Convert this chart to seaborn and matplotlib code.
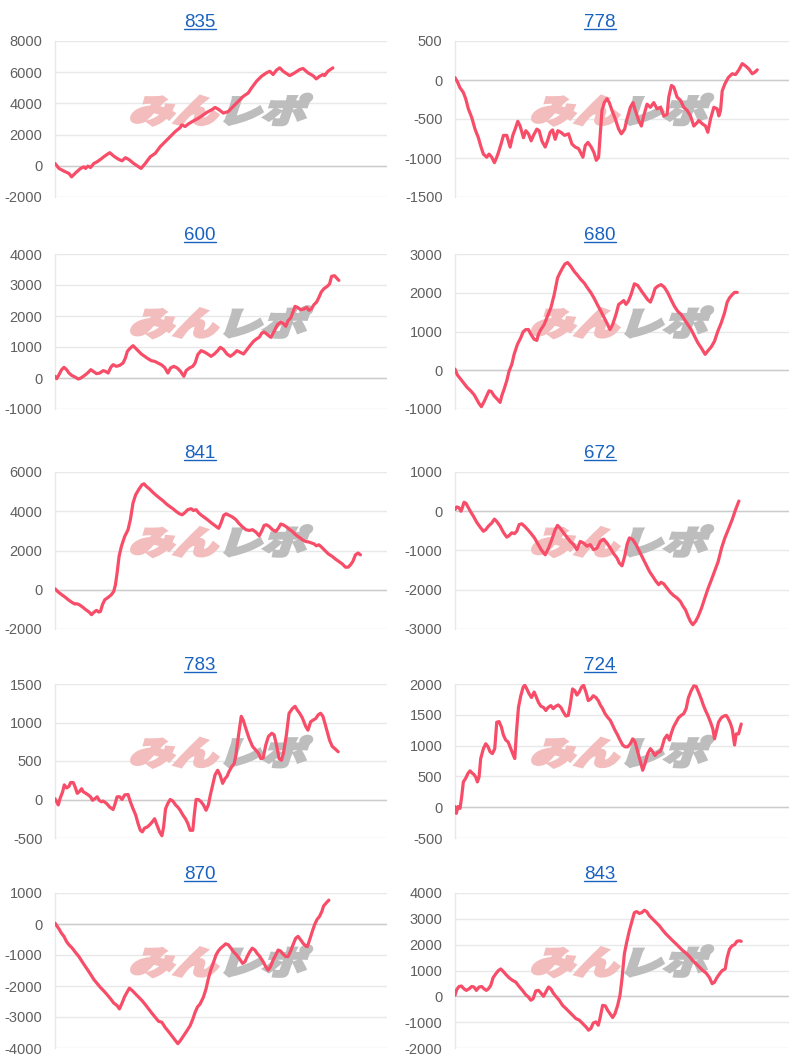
import numpy as np
import matplotlib
matplotlib.use("Agg")
import matplotlib.pyplot as plt
import seaborn as sns
from matplotlib.textpath import TextPath
from matplotlib.font_manager import FontProperties
from matplotlib.patches import PathPatch
from matplotlib.transforms import Affine2D, ScaledTranslation, IdentityTransform
from matplotlib.lines import Line2D
import math

# ---------------- data ----------------
titles = ["835", "778", "600", "680", "841", "672", "783", "724", "870", "843"]

games_835 = [0,120,270,420,500,620,770,870,920,990,1070,1170,1270,1370,1470,1570,1650,1770,1920,2020,
             2120,2220,2370,2520,2590,2720,2870,3020,3170,3320,3470,3620,3770,3820,3920,4020,4170,4320,4470,4570,
             4720,4820,4920,5070,5220,5370,5520,5670,5820,5920,6070,6220,6370,6470,6570,6670,6770,6870,7070,7220,
             7370,7470,7620,7770,7870,7970,8070,8120,8220,8370]
diff_835 = [150,-170,-340,-490,-710,-450,-170,-65,-170,-20,-110,150,260,410,580,730,840,620,410,320,
            520,410,150,-65,-170,150,580,800,1230,1550,1870,2190,2450,2620,2520,2690,2880,3050,3270,3420,
            3590,3740,3630,3380,3480,3810,4130,4450,4670,4990,5420,5740,5960,6060,5850,6130,6280,6060,5780,5960,
            6170,6240,5960,5780,5570,5740,5850,5780,6060,6280]

games_778 = [0,80,150,250,320,400,500,600,700,780, 850,950,1020,1100,1180,1250,1300,1380,1450,1550,
             1650,1730,1800,1880,1950,2050,2120,2200,2280,2350, 2450,2520,2600,2700,2770,2850,2920,3000,3080,3170,
             3280,3400,3500,3600,3700,3830,3900,3980,4080,4160, 4230,4300,4350,4400,4470,4550,4620,4700,4800,4900,
             4980,5080,5150,5250,5330,5400,5500,5580,5650,5750, 5850,5950,6050,6150,6250,6350,6400,6480,6550,6650,
             6750,6850,6950,7050,7150,7220,7300,7400,7500,7570, 7650,7750,7850,7900,7950,8000,8080,8180,8300,8400,
             8500,8600,8700,8800,8900,8980,9050]
diff_778 = [30,-30,-100,-160,-240,-370,-480,-630,-740,-860, -950,-990,-950,-990,-1060,-990,-930,-820,-710,-710,
            -860,-710,-630,-530,-590,-740,-650,-690,-780,-710, -630,-650,-780,-860,-780,-670,-640,-760,-650,-670,
            -710,-690,-820,-860,-880,-990,-840,-800,-860,-930, -1030,-990,-690,-390,-290,-240,-290,-390,-500,-630,
            -690,-630,-500,-350,-290,-390,-520,-590,-460,-310, -350,-290,-370,-350,-460,-440,-220,-70,-90,-220,
            -260,-350,-390,-460,-590,-560,-520,-560,-590,-670, -500,-350,-370,-460,-390,-140,-50,30,80,70,
            130,210,180,140,80,100,130]

games_600 = [0,50,120,200,270,350,420,500,600,700, 780,880,980,1080,1150,1250,1350,1450,1520,1600,
             1680,1750,1850,1950,2050,2120,2180,2250,2350,2420, 2500,2600,2700,2800,2900,3000,3100,3200,3300,3400,
             3480,3580,3680,3780,3880,3950,4050,4150,4220,4300, 4400,4500,4600,4700,4800,4900,4980,5080,5180,5280,
             5380,5480,5580,5680,5780,5880,5980,6080,6150,6230, 6300,6400,6500,6600,6700,6800,6880,6950,7020,7100,
             7170,7230,7300,7400,7500,7580,7650,7720,7800,7880, 7950,8020,8100,8200,8270,8330,8420,8500,8550]
diff_600 = [54,-22,108,269,344,269,161,86,32,-32, 0,75,161,269,215,140,161,237,215,161,
            344,430,376,409,484,645,860,946,1043,968, 882,774,699,624,559,538,484,430,344,161,
            323,376,323,215,54,237,323,376,484,753, 882,839,774,699,774,882,989,914,774,699,
            774,882,828,774,914,1054,1183,1269,1312,1451, 1484,1398,1312,1505,1720,1806,1753,1666,1849,1935,
            2129,2311,2279,2204,2225,2279,2182,2225,2365,2451, 2602,2774,2881,2956,3032,3279,3300,3204,3150]

games_680 = [0,70,170,270,370,470,570,650,720,790, 870,950,1020,1090,1170,1270,1350,1400,1470,1550,
             1620,1700,1770,1870,1970,2040,2120,2200,2270,2370, 2450,2500,2570,2670,2770,2870,2970,3070,3140,3220,
             3290,3370,3470,3570,3670,3770,3870,3970,4070,4170, 4270,4370,4470,4570,4640,4720,4820,4900,4970,5050,
             5120,5190,5270,5370,5470,5570,5670,5770,5850,5920, 5990,6070,6170,6270,6370,6470,6570,6670,6770,6870,
             6970,7070,7170,7270,7370,7490,7570,7670,7770,7870, 7970,8070,8150,8220,8300,8370,8450]
diff_680 = [30,-120,-230,-340,-450,-530,-630,-750,-860,-940, -810,-660,-530,-550,-660,-750,-830,-660,-490,-270,
            -20,150,410,670,840,990,1050,1050,930,800, 770,930,1050,1180,1400,1610,1950,2380,2510,2640,
            2740,2780,2680,2550,2450,2340,2250,2120,2000,1850, 1680,1520,1350,1180,1050,1180,1440,1700,1740,1800,
            1700,1780,1950,2230,2190,2060,1940,1820,1760,1910, 2110,2170,2210,2140,2000,1820,1650,1520,1440,1310,
            1180,1050,880,710,580,410,500,600,750,1010, 1220,1480,1760,1870,1950,2010,2010]

games_841 = [0,100,200,300,400,500,600,650,730,830, 930,1030,1100,1170,1250,1320,1370,1430,1500,1600,
             1700,1770,1820,1870,1930,2000,2100,2200,2270,2350, 2430,2530,2620,2680,2750,2850,2950,3050,3150,3250,
             3350,3450,3550,3650,3750,3830,3900,4000,4100,4170, 4250,4330,4430,4530,4630,4730,4850,4930,5000,5080,
             5150,5250,5350,5450,5530,5630,5750,5850,5950,6050, 6150,6220,6300,6370,6450,6550,6650,6730,6800,6870,
             6950,7050,7150,7250,7350,7450,7550,7650,7730,7800, 7870,7950,8030,8130,8230,8350,8450,8550,8650,8750,
             8830,8900,8970,9050,9130,9200]
diff_841 = [50,-120,-250,-370,-510,-630,-730,-710,-760,-880, -1020,-1140,-1270,-1150,-1050,-1140,-1100,-760,-510,-390,
            -250,-80,250,850,1700,2210,2720,3060,3570,4420, 4840,5130,5350,5400,5270,5130,4960,4810,4670,4540,
            4380,4250,4130,3990,3870,3820,3910,4080,4130,4040, 4080,3910,3770,3650,3520,3380,3230,3130,3400,3790,
            3870,3790,3700,3570,3400,3230,3060,3020,3060,2940, 2750,2970,3280,3310,3230,3060,2970,3140,3350,3310,
            3230,3090,2970,2800,2680,2550,2460,2430,2380,2340, 2240,2290,2170,2000,1830,1700,1560,1440,1320,1150,
            1150,1270,1440,1780,1870,1780]

games_672 = [0,50,120,180,220,270,330,400,480,560, 650,750,850,920,1000,1100,1180,1250,1350,1450,
             1550,1620,1700,1780,1850,1920,2000,2080,2180,2280, 2380,2480,2580,2700,2800,2900,3000,3070,3150,3250,
             3350,3450,3550,3650,3750,3850,3950,4050,4150,4250, 4350,4450,4550,4650,4750,4850,4920,5000,5080,5150,
             5220,5320,5420,5520,5620,5720,5820,5920,6020,6100, 6170,6250,6350,6450,6550,6650,6750,6820,6900,6980,
             7050,7120,7200,7280,7380,7480,7580,7680,7780,7880, 7980,8080,8180,8300,8400,8500]
diff_672 = [40,110,90,0,90,230,200,90,-30,-140, -280,-400,-510,-470,-380,-300,-200,-260,-380,-540,
            -660,-620,-550,-570,-510,-340,-320,-380,-470,-570, -680,-830,-980,-1110,-940,-720,-470,-360,-430,-550,
            -660,-770,-850,-980,-770,-810,-890,-850,-980,-940, -770,-710,-810,-940,-1080,-1190,-1320,-1390,-1150,-850,
            -680,-720,-850,-1020,-1190,-1360,-1530,-1660,-1790,-1870, -1810,-1850,-1960,-2070,-2150,-2210,-2300,-2410,-2510,-2680,
            -2810,-2890,-2810,-2680,-2470,-2210,-1960,-1740,-1510,-1280, -940,-680,-470,-210,40,260]

games_783 = [0,50,100,150,230,280,350,420,470,550, 600,670,730,800,850,930,1000,1070,1130,1200,
             1270,1330,1400,1450,1550,1650,1750,1800,1870,1950, 2020,2100,2200,2270,2350,2430,2500,2570,2630,2700,
             2770,2850,2930,3000,3070,3150,3220,3270,3330,3400, 3470,3550,3630,3700,3770,3850,3930,4000,4070,4150,
             4200,4250,4320,4400,4470,4550,4620,4680,4750,4820, 4900,4970,5050,5120,5180,5250,5330,5400,5450,5530,
             5610,5670,5750,5850,5950,6050,6130,6200,6270,6350, 6430,6530,6600,6670,6750,6820,6880,6970,7050,7150,
             7230,7300,7370,7450,7550,7620,7700,7770,7850,7930, 8000,8070,8130,8200,8270,8350,8430,8530]
diff_783 = [10,-30,-70,10,100,190,150,170,220,220, 170,80,100,140,100,80,60,35,-10,10,
            35,-10,-30,-20,-50,-100,-130,-70,35,35, 0,60,65,-30,-120,-200,-310,-400,-420,-370,
            -360,-330,-290,-250,-330,-420,-470,-360,-120,-50, 0,-20,-70,-100,-140,-200,-250,-310,-400,-400,
            -180,0,0,-30,-70,-140,-70,60,190,320, 380,320,210,270,300,370,430,470,580,840,
            1080,1030,920,790,690,640,600,530,540,710, 820,860,840,710,530,510,600,840,1120,1180,
            1210,1160,1120,1060,950,900,1010,1030,1050,1100, 1120,1080,990,880,770,690,660,620]

games_724 = [0,40,90,150,200,250,320,390,450,520, 570,620,670,720,770,850,920,990,1050,1120,
             1190,1250,1320,1390,1450,1520,1590,1670,1750,1790, 1840,1900,1970,2040,2090,2150,2220,2290,2370,2440,
             2500,2570,2650,2720,2790,2870,2940,3020,3090,3170, 3250,3320,3390,3450,3520,3590,3650,3720,3790,3850,
             3920,3990,4070,4140,4220,4290,4350,4420,4490,4570, 4650,4720,4790,4870,4940,5020,5090,5170,5250,5320,
             5390,5470,5540,5620,5690,5770,5850,5920,5990,6070, 6140,6190,6270,6350,6420,6470,6540,6620,6690,6770,
             6850,6920,6990,7070,7150,7220,7290,7370,7440,7500, 7570,7650,7720,7770,7820,7890,7970,8050,8120,8170,
             8240,8300,8370,8420,8490,8570]
diff_724 = [10,-100,10,-20,170,410,470,550,590,550, 530,490,410,490,790,950,1030,980,900,870,
            950,1380,1390,1300,1170,1090,1060,950,840,790, 1220,1620,1810,1950,1980,1920,1840,1780,1870,1780,
            1700,1640,1620,1570,1620,1650,1600,1640,1660,1620, 1540,1480,1490,1660,1920,1890,1820,1870,1950,1980,
            1870,1730,1760,1810,1780,1730,1660,1600,1520,1460, 1410,1330,1250,1170,1090,1010,980,980,1030,1110,
            1060,900,760,600,710,870,950,900,840,890, 900,960,1110,1170,1090,1190,1300,1380,1450,1490,
            1520,1600,1780,1890,1970,1960,1870,1760,1650,1570, 1490,1380,1270,1110,1220,1380,1450,1480,1490,1450,
            1370,1270,1010,1190,1190,1350]

games_870 = [0,50,120,190,270,350,420,520,620,720, 820,920,990,1070,1170,1270,1370,1470,1570,1670,
             1770,1870,1940,2020,2090,2170,2240,2320,2420,2520, 2620,2720,2820,2920,3020,3120,3220,3320,3420,3520,
             3620,3700,3770,3870,3970,4070,4150,4220,4290,4370, 4470,4550,4620,4690,4770,4850,4920,4990,5070,5140,
             5220,5300,5370,5470,5570,5650,5720,5790,5870,5940, 6020,6090,6170,6270,6350,6420,6490,6570,6650,6720,
             6790,6870,6950,7020,7090,7170,7250,7320,7400,7470, 7550,7600,7670,7750,7820,7890,7970,8040,8090,8170,
             8250]
diff_870 = [30,-50,-160,-290,-400,-570,-670,-780,-920,-1050, -1220,-1380,-1490,-1620,-1790,-1920,-2050,-2160,-2280,-2410,
            -2550,-2630,-2740,-2550,-2360,-2200,-2070,-2140,-2250,-2360, -2470,-2600,-2740,-2880,-3010,-3140,-3170,-3340,-3470,-3610,
            -3750,-3860,-3770,-3610,-3450,-3280,-3070,-2850,-2680,-2580, -2360,-2090,-1760,-1490,-1250,-1000,-870,-780,-710,-640,
            -670,-780,-890,-1000,-1140,-1270,-1220,-1050,-890,-780, -840,-950,-1050,-1220,-1380,-1490,-1380,-1160,-1000,-840,
            -870,-970,-1050,-1050,-890,-670,-460,-400,-510,-620, -710,-730,-510,-240,-20,140,250,410,580,680,
            770]

games_843 = [0,50,120,190,270,340,420,500,570,640, 720,800,870,940,1000,1070,1140,1220,1300,1370,
             1440,1520,1620,1720,1820,1920,2020,2120,2200,2270, 2340,2420,2500,2570,2650,2720,2800,2870,2940,3020,
             3120,3220,3320,3420,3520,3620,3720,3820,3920,4000, 4070,4140,4220,4290,4340,4420,4500,4570,4650,4720,
             4790,4870,4940,5000,5070,5140,5220,5300,5370,5440, 5520,5590,5670,5740,5820,5920,6020,6120,6220,6320,
             6420,6520,6620,6720,6820,6920,7020,7120,7220,7320, 7420,7520,7620,7700,7770,7840,7920,8000,8090,8150,
             8220,8300,8370,8440,8520,8570]
diff_843 = [40,260,380,400,290,230,290,380,360,230, 360,380,290,230,290,420,720,870,1000,1060,
            970,850,720,620,550,380,230,60,-30,-150, -90,210,230,130,0,170,360,290,130,0,
            -150,-350,-470,-600,-730,-860,-920,-1050,-1180,-1310, -1240,-1030,-990,-1120,-860,-350,-370,-540,-690,-820,
            -670,-350,40,680,1640,2090,2540,2920,3240,3280, 3210,3240,3330,3280,3120,2990,2860,2730,2560,2410,
            2280,2150,2030,1900,1770,1670,1540,1380,1260,1130, 1000,900,720,490,550,720,870,1000,1060,1510,
            1830,1960,2000,2130,2150,2130]

series_games = [games_835, games_778, games_600, games_680, games_841,
                games_672, games_783, games_724, games_870, games_843]
series_diff = [diff_835, diff_778, diff_600, diff_680, diff_841,
               diff_672, diff_783, diff_724, diff_870, diff_843]

# y axis ranges (min, max, step)
y_min = [-2000, -1500, -1000, -1000, -2000, -3000, -500, -500, -4000, -2000]
y_max = [8000, 500, 4000, 3000, 6000, 1000, 1500, 2000, 1000, 4000]
y_step = [2000, 500, 1000, 1000, 2000, 1000, 500, 500, 1000, 1000]
X_MAX = 10000

# ---------------- style ----------------
sns.set_theme(style="white")
plt.rcParams['font.family'] = ['Liberation Sans', 'DejaVu Sans']

LINE_COLOR = '#f74d68'
GRID_COLOR = '#e8e8e8'
ZERO_COLOR = '#cccccc'
TICK_COLOR = '#5f5f5f'
TITLE_COLOR = '#1a62c0'

W, H = 800, 1064
fig = plt.figure(figsize=(W / 100, H / 100), dpi=100)
fig.patch.set_facecolor('white')

rows = [(41, 197), (254, 409), (472, 629), (684, 838), (893, 1048)]
cols = [(55, 387), (455, 789)]
title_cx = [200, 600]

wm_font = FontProperties(family='Noto Sans CJK JP', weight='black')


def add_watermark(ax):
    p1 = TextPath((0, 0), "みん", size=1, prop=wm_font)
    p2 = TextPath((2.0, 0), "レポ", size=1, prop=wm_font)
    e1, e2 = p1.get_extents(), p2.get_extents()
    x0, x1 = e1.x0, e2.x1
    y0, y1 = min(e1.y0, e2.y0), max(e1.y1, e2.y1)
    cx, cy = (x0 + x1) / 2, (y0 + y1) / 2
    ew, eh = x1 - x0, y1 - y0
    skew = 14
    target_w, target_h = 184.0, 31.0
    sx = target_w / (ew + math.tan(math.radians(skew)) * eh)
    sy = target_h / eh
    tr = (Affine2D().translate(-cx, -cy).skew_deg(skew, 0).scale(sx, sy)
          + ScaledTranslation(0.5, 0.56, ax.transAxes))
    for p, col in [(p1, '#f3bdbd'), (p2, '#bdbdbd')]:
        patch = PathPatch(p, transform=tr, facecolor=col, edgecolor=col,
                          linewidth=2.2, joinstyle='miter', zorder=1)
        ax.add_artist(patch)


title_texts = []
for i in range(10):
    r, c = divmod(i, 2)
    top, bot = rows[r]
    left, right = cols[c]
    ax = fig.add_axes([left / W, 1 - bot / H, (right - left) / W, (bot - top) / H])
    ax.set_facecolor('white')

    add_watermark(ax)

    sns.lineplot(x=series_games[i], y=series_diff[i], ax=ax, color=LINE_COLOR,
                 linewidth=2.3, estimator=None, sort=False, zorder=3)

    ticks = np.arange(y_min[i], y_max[i] + y_step[i], y_step[i])
    ax.set_yticks(ticks)
    ax.set_yticklabels([str(int(t)) for t in ticks])
    ax.set_ylim(y_min[i], y_max[i])
    ax.set_xlim(0, X_MAX)
    ax.set_xticks([])
    ax.set_xlabel('')
    ax.set_ylabel('')
    ax.grid(axis='y', color=GRID_COLOR, linewidth=1.0)
    ax.set_axisbelow(True)
    ax.axhline(0, color=ZERO_COLOR, linewidth=1.0, zorder=0.8)
    for s in ['top', 'right', 'bottom']:
        ax.spines[s].set_visible(False)
    ax.spines['left'].set_color(GRID_COLOR)
    ax.spines['left'].set_linewidth(1.0)
    ax.tick_params(axis='y', length=8, width=1, color=GRID_COLOR, pad=1,
                   labelsize=10.5, labelcolor=TICK_COLOR)

    t = fig.text(title_cx[c] / W, 1 - (top - 14) / H, titles[i], ha='center',
                 va='baseline', fontsize=13.5, color=TITLE_COLOR)
    title_texts.append((t, top))

fig.canvas.draw()
renderer = fig.canvas.get_renderer()
for t, top in title_texts:
    bb = t.get_window_extent(renderer=renderer)
    y = H - (top - 12)
    fig.add_artist(Line2D([bb.x0, bb.x1], [y, y], transform=IdentityTransform(),
                          color=TITLE_COLOR, linewidth=1.0))

fig.savefig('out.png', dpi=100, facecolor='white')
